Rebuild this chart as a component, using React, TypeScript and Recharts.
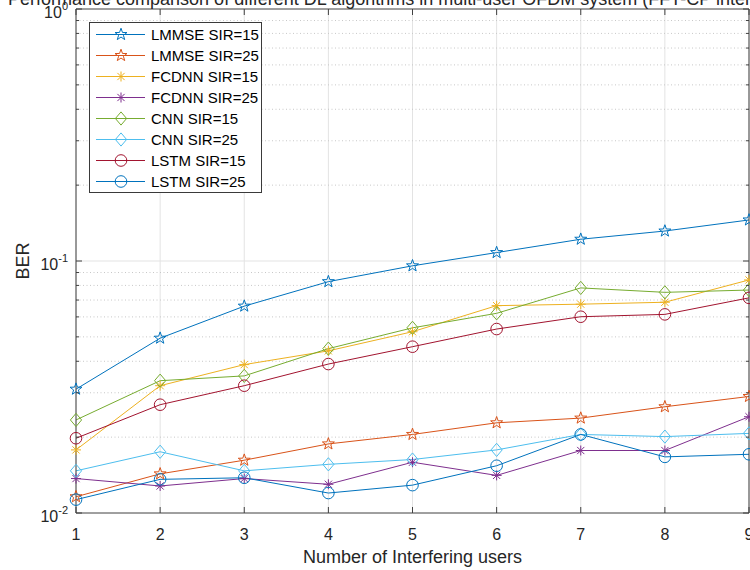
import React from 'react';
import { LineChart, Line, XAxis, YAxis, CartesianGrid, ReferenceLine, Legend } from 'recharts';

const users = [1, 2, 3, 4, 5, 6, 7, 8, 9];
const lmmse15 = [0.031, 0.0494, 0.0662, 0.0828, 0.0957, 0.108, 0.122, 0.1315, 0.1455];
const lmmse25 = [0.0116, 0.0143, 0.0162, 0.0188, 0.0205, 0.0228, 0.0238, 0.0264, 0.029];
const fcdnn15 = [0.0178, 0.032, 0.0388, 0.044, 0.0524, 0.0665, 0.0674, 0.0686, 0.0841];
const fcdnn25 = [0.0137, 0.0128, 0.0137, 0.013, 0.0159, 0.0141, 0.0177, 0.0177, 0.0241];
const cnn15 = [0.0234, 0.0335, 0.035, 0.0449, 0.0543, 0.062, 0.0782, 0.0751, 0.0767];
const cnn25 = [0.0147, 0.0175, 0.0147, 0.0156, 0.0163, 0.0178, 0.0205, 0.0201, 0.0207];
const lstm15 = [0.0198, 0.0269, 0.032, 0.039, 0.0457, 0.0537, 0.0601, 0.0614, 0.0714];
const lstm25 = [0.0113, 0.0136, 0.0138, 0.012, 0.0129, 0.0154, 0.0205, 0.0167, 0.0171];

const seriesNames = ['LMMSE SIR=15', 'LMMSE SIR=25', 'FCDNN SIR=15', 'FCDNN SIR=25', 'CNN SIR=15', 'CNN SIR=25', 'LSTM SIR=15', 'LSTM SIR=25'];
const seriesValues = [lmmse15, lmmse25, fcdnn15, fcdnn25, cnn15, cnn25, lstm15, lstm25];
const seriesColors = ['#0072BD', '#D95319', '#EDB120', '#7E2F8E', '#77AC30', '#4DBEEE', '#A2142F', '#0072BD'];
const seriesMarkers = ['star', 'star', 'asterisk', 'asterisk', 'diamond', 'diamond', 'circle', 'circle'];

const xTicks = [1, 2, 3, 4, 5, 6, 7, 8, 9];
const decadeTicks = [0.01, 0.1, 1];
const minorTicks = [0.02, 0.03, 0.04, 0.05, 0.06, 0.07, 0.08, 0.09, 0.2, 0.3, 0.4, 0.5, 0.6, 0.7, 0.8, 0.9];
const yTicks = [...decadeTicks, ...minorTicks].sort((a, b) => a - b);
const decadeExp: Record<string, string> = { '0.01': '-2', '0.1': '-1', '1': '0' };

const titleText = 'Performance comparison of different DL algorithms in multi-user OFDM system (FFT-CP interference)';
const xLabel = 'Number of Interfering users';
const yLabel = 'BER';

const data = users.map((u, i) => {
  const row: Record<string, number> = { x: u };
  seriesValues.forEach((vals, k) => {
    row['s' + k] = vals[i];
  });
  return row;
});

const FONT = "'Liberation Sans', Arial, Helvetica, sans-serif";
const AX = '#404040';
const TXT = '#262626';

function Marker({ shape, cx, cy, color }: { shape: string; cx: number; cy: number; color: string }) {
  if (cx == null || cy == null || isNaN(cx) || isNaN(cy)) return null;
  if (shape === 'star') {
    const R = 6.3;
    const r = R * 0.4;
    const pts: string[] = [];
    for (let i = 0; i < 10; i++) {
      const ang = -Math.PI / 2 + (i * Math.PI) / 5;
      const rad = i % 2 === 0 ? R : r;
      pts.push(`${cx + rad * Math.cos(ang)},${cy + rad * Math.sin(ang)}`);
    }
    return <polygon points={pts.join(' ')} fill="none" stroke={color} strokeWidth={1} />;
  }
  if (shape === 'asterisk') {
    const a = 5;
    const d = a * 0.72;
    return (
      <g stroke={color} strokeWidth={1}>
        <line x1={cx - a} y1={cy} x2={cx + a} y2={cy} />
        <line x1={cx} y1={cy - a} x2={cx} y2={cy + a} />
        <line x1={cx - d} y1={cy - d} x2={cx + d} y2={cy + d} />
        <line x1={cx - d} y1={cy + d} x2={cx + d} y2={cy - d} />
      </g>
    );
  }
  if (shape === 'diamond') {
    const hw = 5.6;
    const hh = 6.6;
    return (
      <polygon
        points={`${cx},${cy - hh} ${cx + hw},${cy} ${cx},${cy + hh} ${cx - hw},${cy}`}
        fill="none"
        stroke={color}
        strokeWidth={1}
      />
    );
  }
  return <circle cx={cx} cy={cy} r={5.8} fill="none" stroke={color} strokeWidth={1} />;
}

const BottomTick = (p: any) => {
  const { x, y, payload } = p;
  return (
    <g>
      <line x1={x} x2={x} y1={y} y2={y - 6} stroke={AX} strokeWidth={1} />
      <text x={x} y={y + 27} textAnchor="middle" fontSize={16} fill={TXT} fontFamily={FONT}>
        {payload.value}
      </text>
    </g>
  );
};

const TopTick = (p: any) => {
  const { x, y } = p;
  return <line x1={x} x2={x} y1={y} y2={y + 6} stroke={AX} strokeWidth={1} />;
};

const LeftTick = (p: any) => {
  const { x, y, payload } = p;
  const exp = decadeExp[String(payload.value)];
  const len = exp !== undefined ? 6 : 3;
  return (
    <g>
      <line x1={x} x2={x + len} y1={y} y2={y} stroke={AX} strokeWidth={1} />
      {exp !== undefined && (
        <text x={x - 8} y={y + 9} textAnchor="end" fill={TXT} fontFamily={FONT}>
          <tspan fontSize={16}>10</tspan>
          <tspan fontSize={11} dy={-8}>{exp}</tspan>
        </text>
      )}
    </g>
  );
};

const RightTick = (p: any) => {
  const { x, y, payload } = p;
  const exp = decadeExp[String(payload.value)];
  const len = exp !== undefined ? 6 : 3;
  return <line x1={x} x2={x - len} y1={y} y2={y} stroke={AX} strokeWidth={1} />;
};

const XTitle = (p: any) => {
  const vb = p.viewBox || {};
  return (
    <text x={vb.x + vb.width / 2} y={vb.y + 50} textAnchor="middle" fontSize={18} fill={TXT} fontFamily={FONT}>
      {xLabel}
    </text>
  );
};

const YTitle = (p: any) => {
  const vb = p.viewBox || {};
  const cx = vb.x + vb.width - 47;
  const cy = vb.y + vb.height / 2;
  return (
    <text x={cx} y={cy} transform={`rotate(-90 ${cx} ${cy})`} textAnchor="middle" fontSize={18} fill={TXT} fontFamily={FONT}>
      {yLabel}
    </text>
  );
};

const TopTitle = (p: any) => {
  const vb = p.viewBox || {};
  return (
    <text x={vb.x + vb.width / 2} y={vb.y + vb.height - 4} textAnchor="middle" fontSize={18} fill={TXT} fontFamily={FONT}>
      {titleText}
    </text>
  );
};

const LegendBox = () => (
  <div
    style={{
      border: '1px solid #3a3a3a',
      background: '#fff',
      width: 171,
      padding: '1px 0 0 0',
      boxSizing: 'content-box',
      fontFamily: FONT,
    }}
  >
    {seriesNames.map((name, i) => (
      <div key={name} style={{ display: 'flex', alignItems: 'center', height: 21 }}>
        <svg width={61} height={21} style={{ display: 'block', flex: 'none' }}>
          <line x1={6} x2={55} y1={10.5} y2={10.5} stroke={seriesColors[i]} strokeWidth={1} />
          <Marker shape={seriesMarkers[i]} cx={31} cy={10.5} color={seriesColors[i]} />
        </svg>
        <span style={{ fontSize: 15, color: '#000', whiteSpace: 'nowrap', lineHeight: '21px' }}>{name}</span>
      </div>
    ))}
  </div>
);

export default function App() {
  return (
    <div style={{ position: 'absolute', left: 0, top: 0, width: 750, height: 570, background: '#fff' }}>
      <LineChart width={750} height={570} data={data} margin={{ top: 8, right: 0, bottom: 56, left: 75 }}>
        <CartesianGrid horizontal={false} vertical={true} stroke="#e3e3e3" strokeWidth={1} />
        {minorTicks.map((v) => (
          <ReferenceLine key={'m' + v} y={v} stroke="#c8c8c8" strokeDasharray="1 2.5" strokeWidth={1} ifOverflow="hidden" />
        ))}
        <ReferenceLine y={0.1} stroke="#e3e3e3" strokeWidth={1} />
        <XAxis
          dataKey="x"
          type="number"
          domain={[1, 9]}
          ticks={xTicks}
          interval={0}
          height={1}
          tickSize={0}
          tickMargin={0}
          tickLine={false}
          axisLine={{ stroke: AX, strokeWidth: 1 }}
          tick={<BottomTick />}
          label={<XTitle />}
        />
        <XAxis
          xAxisId="top"
          orientation="top"
          dataKey="x"
          type="number"
          domain={[1, 9]}
          ticks={xTicks}
          interval={0}
          height={1}
          tickSize={0}
          tickMargin={0}
          tickLine={false}
          axisLine={{ stroke: AX, strokeWidth: 1 }}
          tick={<TopTick />}
          label={<TopTitle />}
        />
        <YAxis
          type="number"
          scale="log"
          domain={[0.01, 1]}
          ticks={yTicks}
          interval={0}
          width={1}
          tickSize={0}
          tickMargin={0}
          tickLine={false}
          allowDataOverflow
          axisLine={{ stroke: AX, strokeWidth: 1 }}
          tick={<LeftTick />}
          label={<YTitle />}
        />
        <YAxis
          yAxisId="right"
          orientation="right"
          type="number"
          scale="log"
          domain={[0.01, 1]}
          ticks={yTicks}
          interval={0}
          width={1}
          tickSize={0}
          tickMargin={0}
          tickLine={false}
          allowDataOverflow
          axisLine={{ stroke: AX, strokeWidth: 1 }}
          tick={<RightTick />}
        />
        {seriesNames.map((name, k) => (
          <Line
            key={name}
            type="linear"
            dataKey={'s' + k}
            name={name}
            stroke={seriesColors[k]}
            strokeWidth={1}
            isAnimationActive={false}
            dot={(p: any) => (
              <Marker key={'d' + k + '-' + p.index} shape={seriesMarkers[k]} cx={p.cx} cy={p.cy} color={seriesColors[k]} />
            )}
            activeDot={false}
          />
        ))}
        <Legend
          layout="vertical"
          align="center"
          verticalAlign="middle"
          content={<LegendBox />}
          wrapperStyle={{ position: 'absolute', left: 89, top: 22, width: 173, height: 170 }}
        />
      </LineChart>
    </div>
  );
}
